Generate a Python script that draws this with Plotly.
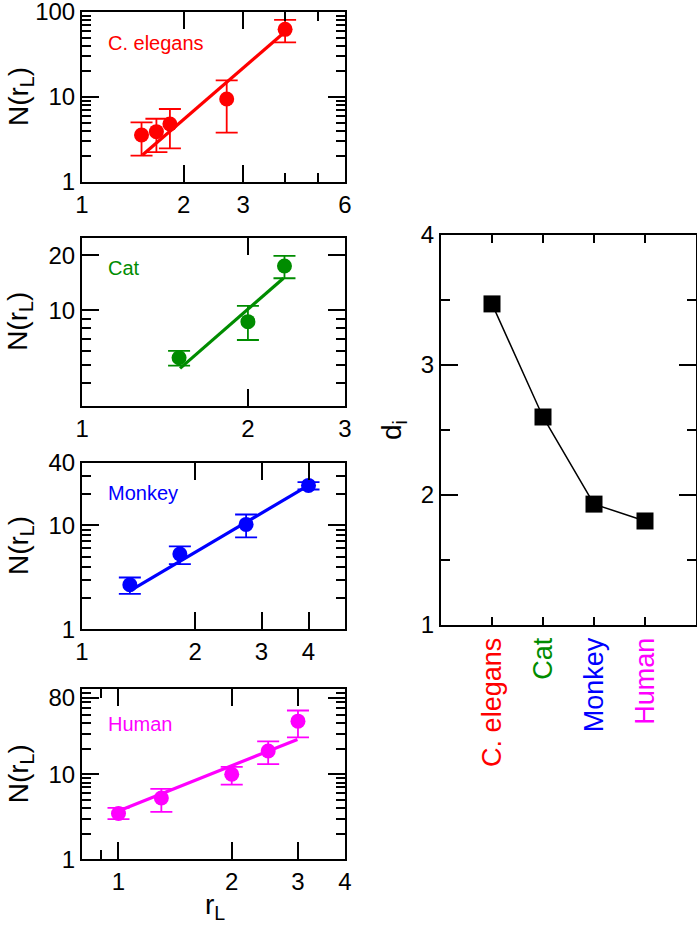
import numpy as np
import plotly.graph_objects as go

W, H = 697, 928

# ---------------- data ----------------
# C. elegans
ce_r = [1.50, 1.66, 1.82, 2.68, 3.99]
ce_N = [3.57, 3.91, 4.81, 9.47, 62.5]
ce_hi = [5.04, 5.55, 7.22, 15.7, 80.7]
ce_lo = [2.04, 2.24, 2.49, 3.80, 44.0]
ce_fit_r = [1.51, 3.99]
ce_fit_N = [2.08, 58.7]

# Cat
cat_r = [1.50, 2.00, 2.33]
cat_N = [5.51, 8.68, 17.5]
cat_hi = [6.00, 10.6, 19.9]
cat_lo = [4.99, 6.89, 15.0]
cat_fit_r = [1.506, 2.32]
cat_fit_N = [4.82, 15.0]

# Monkey
mk_r = [1.34, 1.82, 2.73, 4.00]
mk_N = [2.68, 5.30, 10.2, 24.2]
mk_hi = [3.15, 6.27, 12.7, 26.0]
mk_lo = [2.19, 4.24, 7.66, 22.1]
mk_fit_r = [1.354, 3.97]
mk_fit_N = [2.40, 23.8]

# Human
hu_r = [1.00, 1.30, 2.00, 2.50, 3.00]
hu_N = [3.46, 5.27, 10.0, 18.8, 42.2]
hu_hi = [4.03, 6.72, 12.2, 24.4, 56.3]
hu_lo = [2.97, 3.61, 7.57, 13.2, 27.2]
hu_fit_r = [1.00, 2.99]
hu_fit_N = [3.71, 25.7]

# Right panel
species = ["C. elegans", "Cat", "Monkey", "Human"]
species_pos = [1, 2, 3, 4]
d_i = [3.47, 2.60, 1.93, 1.80]

COLORS = ["#ff0000", "#008c00", "#0000ff", "#ff00ff"]
FONT = "Liberation Sans, Arial, Helvetica, sans-serif"
EPS = 1e-4


def px_x(x):
    return x / W


def px_y(y):
    return 1 - y / H


fig = go.Figure()

panels = [
    dict(r=ce_r, N=ce_N, hi=ce_hi, lo=ce_lo, fr=ce_fit_r, fN=ce_fit_N, name="C. elegans",
         y0=12, y1=182, xr=(1, 6), yr=(1, 100),
         xt=[1, 2, 3, 6], xm=[4, 5], yt=[1, 10, 100],
         ym=[2, 3, 4, 5, 6, 7, 8, 9, 20, 30, 40, 50, 60, 70, 80, 90], laby=43),
    dict(r=cat_r, N=cat_N, hi=cat_hi, lo=cat_lo, fr=cat_fit_r, fN=cat_fit_N, name="Cat",
         y0=237.7, y1=406, xr=(1, 3), yr=(3, 25),
         xt=[1, 2, 3], xm=[], yt=[10, 20],
         ym=[4, 5, 6, 7, 8, 9], laby=268),
    dict(r=mk_r, N=mk_N, hi=mk_hi, lo=mk_lo, fr=mk_fit_r, fN=mk_fit_N, name="Monkey",
         y0=462.7, y1=629.3, xr=(1, 5), yr=(1, 40),
         xt=[1, 2, 3, 4], xm=[], yt=[1, 10, 40],
         ym=[2, 3, 4, 5, 6, 7, 8, 9, 20, 30], laby=493),
    dict(r=hu_r, N=hu_N, hi=hu_hi, lo=hu_lo, fr=hu_fit_r, fN=hu_fit_N, name="Human",
         y0=689.3, y1=859.3, xr=(0.8, 4), yr=(1, 100),
         xt=[1, 2, 3, 4], xm=[0.9], yt=[1, 10, 80],
         ym=[2, 3, 4, 5, 6, 7, 8, 9, 20, 30, 40, 50, 60, 70, 90], laby=724),
]

XL, XR = 82, 345
annotations = []
layout_axes = {}

for i, p in enumerate(panels):
    k = i + 1
    c = COLORS[i]
    xa = "x" if k == 1 else f"x{k}"
    ya = "y" if k == 1 else f"y{k}"
    err_p = [h - n for h, n in zip(p["hi"], p["N"])]
    err_m = [n - l for n, l in zip(p["N"], p["lo"])]
    fig.add_trace(go.Scatter(x=p["fr"], y=p["fN"], mode="lines",
                             line=dict(color=c, width=3.2), xaxis=xa, yaxis=ya,
                             showlegend=False, hoverinfo="skip"))
    fig.add_trace(go.Scatter(x=p["r"], y=p["N"], mode="markers",
                             marker=dict(color=c, size=15, line=dict(width=0)),
                             error_y=dict(type="data", symmetric=False, array=err_p,
                                          arrayminus=err_m, color=c, thickness=1.8, width=11),
                             xaxis=xa, yaxis=ya, showlegend=False))
    common = dict(showline=True, linecolor="black", linewidth=2, mirror="allticks",
                  ticks="inside", ticklen=17, tickwidth=1.6, tickcolor="black",
                  showgrid=False, zeroline=False, automargin=False,
                  ticklabeloverflow="allow",
                  tickfont=dict(family=FONT, size=24, color="black"))
    layout_axes["xaxis" if k == 1 else f"xaxis{k}"] = dict(
        type="log", range=[np.log10(p["xr"][0]) - EPS, np.log10(p["xr"][1]) + EPS],
        domain=[px_x(XL), px_x(XR)], anchor=ya,
        tickmode="array", tickvals=p["xt"], ticktext=[str(v) for v in p["xt"]],
        minor=dict(tickmode="array", tickvals=p["xm"], ticks="inside", ticklen=9,
                   tickwidth=1.6, tickcolor="black"),
        **common)
    layout_axes["yaxis" if k == 1 else f"yaxis{k}"] = dict(
        type="log", range=[np.log10(p["yr"][0]) - EPS, np.log10(p["yr"][1]) + EPS],
        domain=[px_y(p["y1"]), px_y(p["y0"])], anchor=xa,
        tickmode="array", tickvals=p["yt"], ticktext=[str(v) for v in p["yt"]],
        minor=dict(tickmode="array", tickvals=p["ym"], ticks="inside", ticklen=9,
                   tickwidth=1.6, tickcolor="black"),
        **common)
    annotations.append(dict(x=px_x(106), y=px_y(p["laby"]), xref="paper", yref="paper",
                            text=p["name"], showarrow=False, xanchor="left", yanchor="middle",
                            font=dict(family=FONT, size=20, color=c)))
    annotations.append(dict(x=px_x(20), y=px_y((p["y0"] + p["y1"]) / 2), xref="paper", yref="paper",
                            text="N(r<sub>L</sub>)", showarrow=False, textangle=-90,
                            xanchor="center", yanchor="middle",
                            font=dict(family=FONT, size=28, color="black")))

annotations.append(dict(x=px_x(215), y=px_y(906), xref="paper", yref="paper",
                        text="r<sub>L</sub>", showarrow=False, xanchor="center", yanchor="middle",
                        font=dict(family=FONT, size=28, color="black")))

# Right panel
fig.add_trace(go.Scatter(x=species_pos, y=d_i, mode="lines+markers",
                         line=dict(color="black", width=1.5),
                         marker=dict(symbol="square", size=17, color="black"),
                         xaxis="x5", yaxis="y5", showlegend=False))

tick_txt = [f"<span style='color:{c}'>{s}</span>" for s, c in zip(species, COLORS)]
layout_axes["xaxis5"] = dict(
    range=[0, 5], domain=[px_x(441), px_x(696)], anchor="y5",
    tickmode="array", tickvals=species_pos, ticktext=tick_txt, tickangle=-90,
    showline=True, linecolor="black", linewidth=2, mirror="allticks",
    ticks="inside", ticklen=8, tickwidth=1.6, tickcolor="black",
    showgrid=False, zeroline=False, automargin=False,
    tickfont=dict(family=FONT, size=27, color="black"))
layout_axes["yaxis5"] = dict(
    range=[1 - EPS, 4 + EPS], domain=[px_y(625), px_y(235)], anchor="x5",
    tickmode="array", tickvals=[1, 2, 3, 4], ticktext=["1", "2", "3", "4"],
    minor=dict(tickmode="array", tickvals=[1.5, 2.5, 3.5], ticks="inside", ticklen=9,
               tickwidth=1.6, tickcolor="black"),
    showline=True, linecolor="black", linewidth=2, mirror="allticks",
    ticks="inside", ticklen=17, tickwidth=1.6, tickcolor="black",
    showgrid=False, zeroline=False, automargin=False,
    tickfont=dict(family=FONT, size=24, color="black"))
annotations.append(dict(x=px_x(393), y=px_y(430), xref="paper", yref="paper",
                        text="d<sub>i</sub>", showarrow=False, textangle=-90,
                        xanchor="center", yanchor="middle",
                        font=dict(family=FONT, size=28, color="black")))

fig.update_layout(
    width=W, height=H, margin=dict(l=0, r=0, t=0, b=0),
    paper_bgcolor="white", plot_bgcolor="white",
    annotations=annotations, showlegend=False,
    font=dict(family=FONT, color="black"),
    **layout_axes,
)

fig.write_html("out.html",
               config={"displayModeBar": False},
               post_script="document.body.style.margin='0';document.body.style.overflow='hidden';")
